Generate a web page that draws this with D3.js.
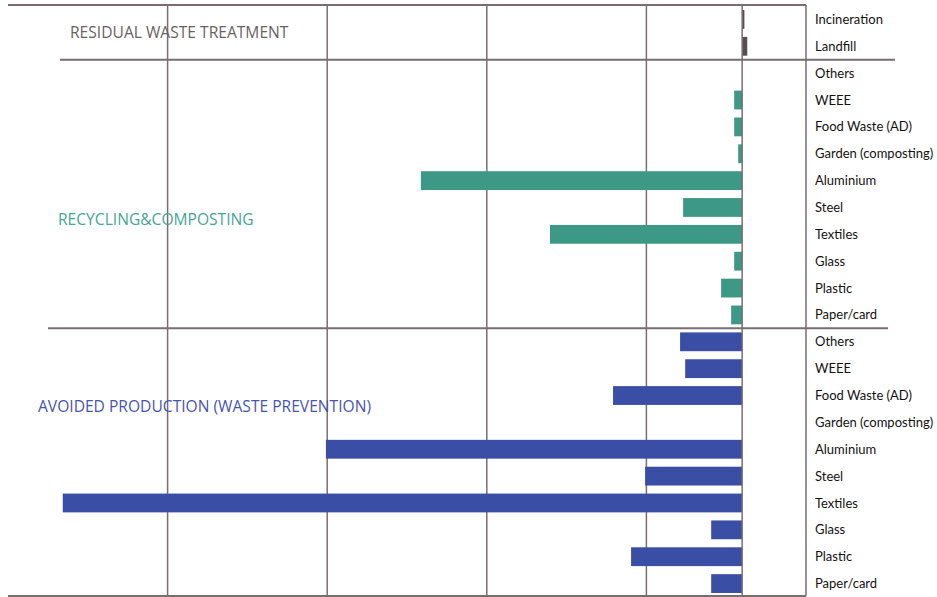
<!DOCTYPE html>
<html>
<head>
<meta charset="utf-8">
<script src="https://cdn.jsdelivr.net/npm/d3@7"></script>
<style>
  body { margin: 0; background: #fff; }
  text { font-family: "Open Sans", sans-serif; }
  .label { font-family: Lato, "Open Sans", sans-serif; }
</style>
</head>
<body>
<script>
// categories for each section (top to bottom)
const residualCats = ['Incineration', 'Landfill'];
const materialCats = ['Others', 'WEEE', 'Food Waste (AD)', 'Garden (composting)', 'Aluminium',
                      'Steel', 'Textiles', 'Glass', 'Plastic', 'Paper/card'];

// values
const residualValues = [14, 32];
const recyclingValues = [0, -50, -50, -25, -2013, -370, -1204, -50, -132, -69];
const avoidedValues = [-389, -357, -809, 0, -2608, -608, -4257, -194, -696, -194];

// vertical grid positions
const gridTicks = [-3600, -2600, -1600, -600, 400];

const sections = [
  { key: 'residual', title: 'RESIDUAL WASTE TREATMENT', cats: residualCats, values: residualValues },
  { key: 'recycling', title: 'RECYCLING&COMPOSTING', cats: materialCats, values: recyclingValues },
  { key: 'avoided', title: 'AVOIDED PRODUCTION (WASTE PREVENTION)', cats: materialCats, values: avoidedValues }
];

const colors = { residual: '#5d4b52', recycling: '#3d9986', avoided: '#3a4ea5' };
const titleColors = { residual: '#6c5f62', recycling: '#48a596', avoided: '#4855b0' };
const titlePos = { residual: [70, 38], recycling: [58, 225], avoided: [38, 412] };

const width = 937, height = 597;
const gridColor = '#7a6d70';

const rows = [];
sections.forEach(function(s) {
  s.cats.forEach(function(c, i) {
    rows.push({ id: s.key + '|' + c, section: s.key, label: c, value: s.values[i] });
  });
});

const svg = d3.select('body').append('svg')
    .attr('width', width).attr('height', height);

const x = d3.scaleLinear().domain([-4600, 400]).range([8, 806]);
const y = d3.scaleBand()
    .domain(rows.map(function(d) { return d.id; }))
    .range([6, 597])
    .paddingInner(0.3).paddingOuter(0.15);

const yTop = 5, yBottom = 596;

// vertical grid lines
svg.append('g').selectAll('line')
  .data(gridTicks)
  .enter().append('line')
    .attr('x1', function(d) { return x(d); })
    .attr('x2', function(d) { return x(d); })
    .attr('y1', yTop).attr('y2', yBottom)
    .attr('stroke', gridColor).attr('stroke-width', 1.5);

// top and bottom frame lines
svg.append('line').attr('x1', x(-4600)).attr('x2', x(400)).attr('y1', yTop).attr('y2', yTop)
    .attr('stroke', gridColor).attr('stroke-width', 2);
svg.append('line').attr('x1', x(-4600)).attr('x2', x(400)).attr('y1', yBottom).attr('y2', yBottom)
    .attr('stroke', gridColor).attr('stroke-width', 2);

// section dividers
const firstRecycling = y('recycling|Others') - y.step() * y.paddingInner() / 2;
const firstAvoided = y('avoided|Others') - y.step() * y.paddingInner() / 2;
svg.append('line').attr('x1', 60).attr('x2', 895).attr('y1', firstRecycling).attr('y2', firstRecycling)
    .attr('stroke', gridColor).attr('stroke-width', 2);
svg.append('line').attr('x1', 48).attr('x2', 888).attr('y1', firstAvoided).attr('y2', firstAvoided)
    .attr('stroke', gridColor).attr('stroke-width', 2);

// bars
svg.append('g').selectAll('rect')
  .data(rows)
  .enter().append('rect')
    .attr('x', function(d) { return x(Math.min(0, d.value)); })
    .attr('y', function(d) { return y(d.id); })
    .attr('width', function(d) { return Math.abs(x(d.value) - x(0)); })
    .attr('height', y.bandwidth())
    .attr('fill', function(d) { return colors[d.section]; });

// zero line
svg.append('line').attr('x1', x(0)).attr('x2', x(0)).attr('y1', yTop).attr('y2', yBottom)
    .attr('stroke', gridColor).attr('stroke-width', 1.5);

// category labels
svg.append('g').selectAll('text')
  .data(rows)
  .enter().append('text')
    .attr('class', 'label')
    .attr('x', 815)
    .attr('y', function(d) { return y(d.id) + y.bandwidth() / 2; })
    .attr('dy', '0.35em')
    .attr('font-size', 13)
    .attr('fill', '#141112')
    .text(function(d) { return d.label; });

// section titles
svg.append('g').selectAll('text')
  .data(sections)
  .enter().append('text')
    .attr('x', function(d) { return titlePos[d.key][0]; })
    .attr('y', function(d) { return titlePos[d.key][1]; })
    .attr('font-size', 15.6)
    .attr('fill', function(d) { return titleColors[d.key]; })
    .text(function(d) { return d.title; });
</script>
</body>
</html>
